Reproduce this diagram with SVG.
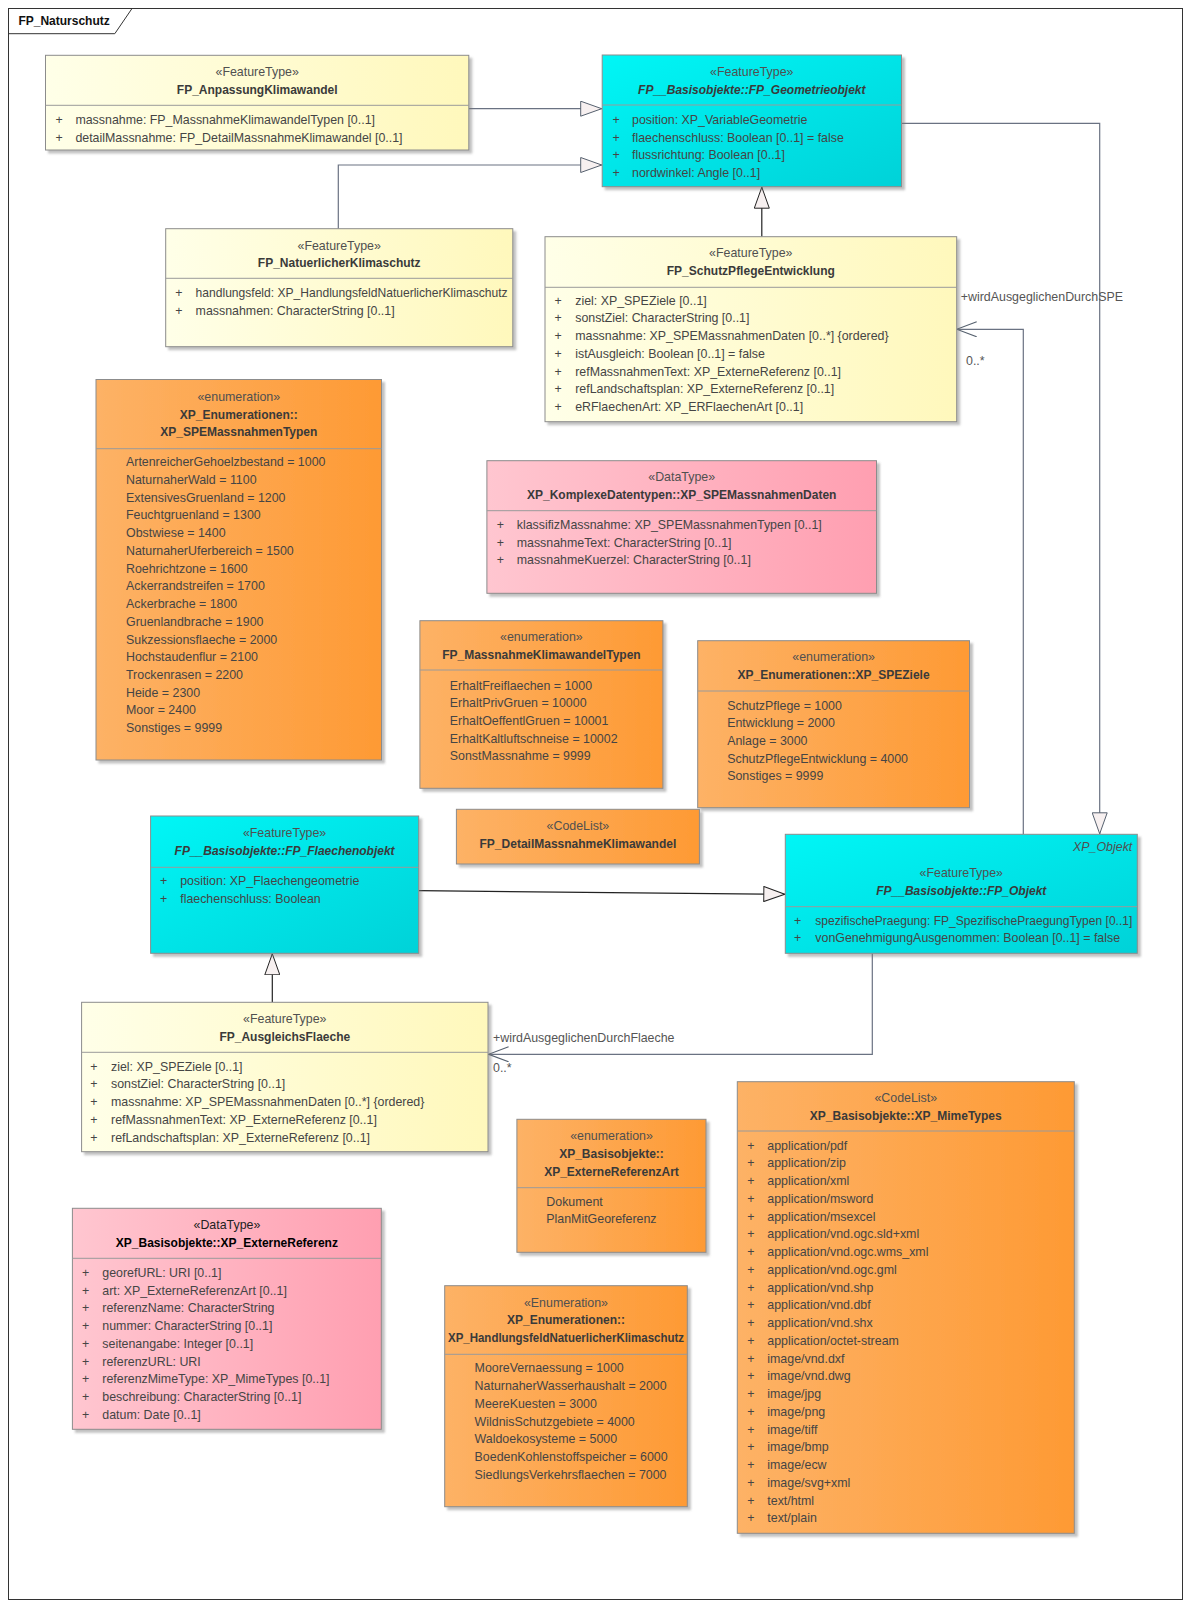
<svg xmlns="http://www.w3.org/2000/svg" width="1190" height="1608" viewBox="0 0 1190 1608">
<defs>
<linearGradient id="gY" x1="0" y1="0" x2="1" y2="0"><stop offset="0" stop-color="#FFFFE8"/><stop offset="1" stop-color="#FFF8BC"/></linearGradient>
<linearGradient id="gC" x1="0" y1="0" x2="1" y2="1"><stop offset="0" stop-color="#00F6F6"/><stop offset="1" stop-color="#00D2D8"/></linearGradient>
<linearGradient id="gO" x1="0" y1="0" x2="1" y2="0"><stop offset="0" stop-color="#FDB266"/><stop offset="1" stop-color="#FE9A34"/></linearGradient>
<linearGradient id="gP" x1="0" y1="0" x2="1" y2="0"><stop offset="0" stop-color="#FFC6D0"/><stop offset="1" stop-color="#FF9FB1"/></linearGradient>
<filter id="sh" x="-5%" y="-5%" width="115%" height="115%"><feDropShadow dx="3" dy="3" stdDeviation="1.2" flood-color="#777" flood-opacity="0.45"/></filter>
<marker id="gen" viewBox="0 0 22 16" refX="22" refY="8" markerWidth="22" markerHeight="16" markerUnits="userSpaceOnUse" orient="auto"><path d="M0.5,0.5 L21.5,8 L0.5,15.5 Z" fill="#F7F0F0" stroke="#55606E" stroke-width="1"/></marker>
<marker id="genk" viewBox="0 0 22 16" refX="22" refY="8" markerWidth="22" markerHeight="16" markerUnits="userSpaceOnUse" orient="auto"><path d="M0.5,0.5 L21.5,8 L0.5,15.5 Z" fill="#F7F0F0" stroke="#222" stroke-width="1"/></marker>
<marker id="open" viewBox="0 0 22 16" refX="21" refY="8" markerWidth="22" markerHeight="16" markerUnits="userSpaceOnUse" orient="auto"><path d="M1,0.5 L21,8 L1,15.5" fill="none" stroke="#55606E" stroke-width="1.1"/></marker>
<style>
text{font-family:"Liberation Sans",Arial,sans-serif;font-size:12.4px;fill:#454545}
.st{text-anchor:middle;fill:#505050}
.nm{text-anchor:middle;font-weight:bold;font-size:12px;fill:#3A3A3A}
.ni{text-anchor:middle;font-weight:bold;font-style:italic;font-size:12px;fill:#3A3A3A}
.box{stroke:#8C8C8C;stroke-width:1;filter:url(#sh)}
.y{fill:url(#gY)}.c{fill:url(#gC)}.o{fill:url(#gO)}.p{fill:url(#gP)}
.dv{stroke:#9A9A9A;stroke-width:1}
.ln{fill:none;stroke:#6A7282;stroke-width:1.2}
.lk{fill:none;stroke:#222;stroke-width:1.2}
.lb{fill:#555}
</style>
</defs>
<rect width="1190" height="1608" fill="#fff"/>
<g id="frame">
<rect x="8.5" y="8.5" width="1174" height="1591" fill="none" stroke="#333" stroke-width="1"/>
<path d="M8.5,33.7 H114.8 L132,8.5" fill="none" stroke="#333" stroke-width="1"/>
<text x="18.4" y="25" style="font-weight:bold;font-size:12px;fill:#111">FP_Naturschutz</text>
</g>
<g id="connectors">
<path class="ln" d="M468.8,108.7 H602.2" marker-end="url(#gen)"/>
<path class="ln" d="M338.3,228.7 V165 H602.2" marker-end="url(#gen)"/>
<path class="lk" d="M761.8,236.7 V186.7" marker-end="url(#genk)"/>
<path class="ln" d="M901.5,123.3 H1099.7 V834.3" marker-end="url(#gen)"/>
<path class="lk" d="M418.7,890.7 L785.3,894.3" marker-end="url(#genk)"/>
<path class="lk" d="M272.3,1002.3 V953.3" marker-end="url(#genk)"/>
<path class="ln" d="M1023.3,834.3 V329.3 H956.7" marker-end="url(#open)"/>
<path class="ln" d="M872.3,953.3 V1054.3 H488.6" marker-end="url(#open)"/>
<text class="lb" x="960.8" y="301.2">+wirdAusgeglichenDurchSPE</text>
<text class="lb" x="966" y="365.2">0..*</text>
<text class="lb" x="493" y="1042.2">+wirdAusgeglichenDurchFlaeche</text>
<text class="lb" x="493" y="1072.2">0..*</text>
</g>
<g id="FP_AnpassungKlimawandel">
<rect class="box y" x="45.5" y="55.3" width="423.3" height="94.7"/>
<line class="dv" x1="45.5" y1="105.3" x2="468.8" y2="105.3"/>
<text class="st" x="257.2" y="76.2">«FeatureType»</text>
<text class="nm" x="257.2" y="93.8">FP_AnpassungKlimawandel</text>
<text x="55.5" y="123.8">+</text><text x="75.4" y="123.8">massnahme: FP_MassnahmeKlimawandelTypen [0..1]</text>
<text x="55.5" y="141.5">+</text><text x="75.4" y="141.5">detailMassnahme: FP_DetailMassnahmeKlimawandel [0..1]</text>
</g>
<g id="FP_Geometrieobjekt">
<rect class="box c" x="602.2" y="55" width="299.3" height="131.7"/>
<line class="dv" x1="602.2" y1="105" x2="901.5" y2="105"/>
<text class="st" x="751.8" y="76.2">«FeatureType»</text>
<text class="ni" x="751.8" y="93.8">FP__Basisobjekte::FP_Geometrieobjekt</text>
<text x="612.5" y="123.8">+</text><text x="632" y="123.8">position: XP_VariableGeometrie</text>
<text x="612.5" y="141.5">+</text><text x="632" y="141.5">flaechenschluss: Boolean [0..1] = false</text>
<text x="612.5" y="159.2">+</text><text x="632" y="159.2">flussrichtung: Boolean [0..1]</text>
<text x="612.5" y="176.9">+</text><text x="632" y="176.9">nordwinkel: Angle [0..1]</text>
</g>
<g id="FP_NatuerlicherKlimaschutz">
<rect class="box y" x="165.7" y="228.7" width="347.1" height="118"/>
<line class="dv" x1="165.7" y1="278.3" x2="512.8" y2="278.3"/>
<text class="st" x="339.2" y="249.5">«FeatureType»</text>
<text class="nm" x="339.2" y="267.2">FP_NatuerlicherKlimaschutz</text>
<text x="175.3" y="297.2">+</text><text x="195.6" y="297.2" textLength="312" lengthAdjust="spacingAndGlyphs">handlungsfeld: XP_HandlungsfeldNatuerlicherKlimaschutz</text>
<text x="175.3" y="314.9">+</text><text x="195.6" y="314.9">massnahmen: CharacterString [0..1]</text>
</g>
<g id="FP_SchutzPflegeEntwicklung">
<rect class="box y" x="545" y="236.7" width="411.7" height="185"/>
<line class="dv" x1="545" y1="287.3" x2="956.7" y2="287.3"/>
<text class="st" x="750.8" y="256.8">«FeatureType»</text>
<text class="nm" x="750.8" y="274.5">FP_SchutzPflegeEntwicklung</text>
<text x="554.5" y="304.6">+</text><text x="575.2" y="304.6">ziel: XP_SPEZiele [0..1]</text>
<text x="554.5" y="322.35">+</text><text x="575.2" y="322.35">sonstZiel: CharacterString [0..1]</text>
<text x="554.5" y="340.1">+</text><text x="575.2" y="340.1">massnahme: XP_SPEMassnahmenDaten [0..*] {ordered}</text>
<text x="554.5" y="357.85">+</text><text x="575.2" y="357.85">istAusgleich: Boolean [0..1] = false</text>
<text x="554.5" y="375.6">+</text><text x="575.2" y="375.6">refMassnahmenText: XP_ExterneReferenz [0..1]</text>
<text x="554.5" y="393.35">+</text><text x="575.2" y="393.35">refLandschaftsplan: XP_ExterneReferenz [0..1]</text>
<text x="554.5" y="411.1">+</text><text x="575.2" y="411.1">eRFlaechenArt: XP_ERFlaechenArt [0..1]</text>
</g>
<g id="XP_SPEMassnahmenTypen">
<rect class="box o" x="96" y="379.5" width="285.5" height="380.5"/>
<line class="dv" x1="96" y1="448.7" x2="381.5" y2="448.7"/>
<text class="st" x="238.8" y="401.2">«enumeration»</text>
<text class="nm" x="238.8" y="418.8">XP_Enumerationen::</text>
<text class="nm" x="238.8" y="435.5">XP_SPEMassnahmenTypen</text>
<text x="126" y="466.2">ArtenreicherGehoelzbestand = 1000</text>
<text x="126" y="483.9">NaturnaherWald = 1100</text>
<text x="126" y="501.7">ExtensivesGruenland = 1200</text>
<text x="126" y="519.4">Feuchtgruenland = 1300</text>
<text x="126" y="537.1">Obstwiese = 1400</text>
<text x="126" y="554.9">NaturnaherUferbereich = 1500</text>
<text x="126" y="572.6">Roehrichtzone = 1600</text>
<text x="126" y="590.3">Ackerrandstreifen = 1700</text>
<text x="126" y="608.0">Ackerbrache = 1800</text>
<text x="126" y="625.8">Gruenlandbrache = 1900</text>
<text x="126" y="643.5">Sukzessionsflaeche = 2000</text>
<text x="126" y="661.2">Hochstaudenflur = 2100</text>
<text x="126" y="679.0">Trockenrasen = 2200</text>
<text x="126" y="696.7">Heide = 2300</text>
<text x="126" y="714.4">Moor = 2400</text>
<text x="126" y="732.2">Sonstiges = 9999</text>
</g>
<g id="XP_SPEMassnahmenDaten">
<rect class="box p" x="486.9" y="460.7" width="389.6" height="132.6"/>
<line class="dv" x1="486.9" y1="510.7" x2="876.5" y2="510.7"/>
<text class="st" x="681.7" y="481.2">«DataType»</text>
<text class="nm" x="681.7" y="498.8">XP_KomplexeDatentypen::XP_SPEMassnahmenDaten</text>
<text x="496.8" y="528.8">+</text><text x="516.7" y="528.8">klassifizMassnahme: XP_SPEMassnahmenTypen [0..1]</text>
<text x="496.8" y="546.6">+</text><text x="516.7" y="546.6">massnahmeText: CharacterString [0..1]</text>
<text x="496.8" y="564.3">+</text><text x="516.7" y="564.3">massnahmeKuerzel: CharacterString [0..1]</text>
</g>
<g id="FP_MassnahmeKlimawandelTypen">
<rect class="box o" x="419.9" y="620.7" width="243" height="167.6"/>
<line class="dv" x1="419.9" y1="670" x2="662.9" y2="670"/>
<text class="st" x="541.4" y="641.2">«enumeration»</text>
<text class="nm" x="541.4" y="658.5">FP_MassnahmeKlimawandelTypen</text>
<text x="449.8" y="689.5">ErhaltFreiflaechen = 1000</text>
<text x="449.8" y="707.2">ErhaltPrivGruen = 10000</text>
<text x="449.8" y="724.9">ErhaltOeffentlGruen = 10001</text>
<text x="449.8" y="742.6">ErhaltKaltluftschneise = 10002</text>
<text x="449.8" y="760.3">SonstMassnahme = 9999</text>
</g>
<g id="XP_SPEZiele">
<rect class="box o" x="697.7" y="640.7" width="271.8" height="167"/>
<line class="dv" x1="697.7" y1="691" x2="969.5" y2="691"/>
<text class="st" x="833.6" y="661.2">«enumeration»</text>
<text class="nm" x="833.6" y="678.8">XP_Enumerationen::XP_SPEZiele</text>
<text x="727.2" y="709.5">SchutzPflege = 1000</text>
<text x="727.2" y="727.2">Entwicklung = 2000</text>
<text x="727.2" y="744.9">Anlage = 3000</text>
<text x="727.2" y="762.6">SchutzPflegeEntwicklung = 4000</text>
<text x="727.2" y="780.3">Sonstiges = 9999</text>
</g>
<g id="FP_DetailMassnahmeKlimawandel">
<rect class="box o" x="456.4" y="809.3" width="243" height="54.7"/>
<text class="st" x="577.9" y="829.8">«CodeList»</text>
<text class="nm" x="577.9" y="847.8">FP_DetailMassnahmeKlimawandel</text>
</g>
<g id="FP_Flaechenobjekt">
<rect class="box c" x="150.6" y="816" width="268.1" height="137.3"/>
<line class="dv" x1="150.6" y1="867.3" x2="418.7" y2="867.3"/>
<text class="st" x="284.6" y="836.8">«FeatureType»</text>
<text class="ni" x="284.6" y="854.5">FP__Basisobjekte::FP_Flaechenobjekt</text>
<text x="160" y="885.2">+</text><text x="180.2" y="885.2">position: XP_Flaechengeometrie</text>
<text x="160" y="903">+</text><text x="180.2" y="903">flaechenschluss: Boolean</text>
</g>
<g id="FP_Objekt">
<rect class="box c" x="785.3" y="834.3" width="352" height="119"/>
<line class="dv" x1="785.3" y1="906.7" x2="1137.3" y2="906.7"/>
<text x="1132.3" y="850.5" style="font-style:italic;text-anchor:end;fill:#505050">XP_Objekt</text>
<text class="st" x="961.3" y="876.8">«FeatureType»</text>
<text class="ni" x="961.3" y="894.5">FP__Basisobjekte::FP_Objekt</text>
<text x="794" y="924.5">+</text><text x="815.3" y="924.5" textLength="317" lengthAdjust="spacingAndGlyphs">spezifischePraegung: FP_SpezifischePraegungTypen [0..1]</text>
<text x="794" y="942.2">+</text><text x="815.3" y="942.2">vonGenehmigungAusgenommen: Boolean [0..1] = false</text>
</g>
<g id="FP_AusgleichsFlaeche">
<rect class="box y" x="81.6" y="1002.3" width="406.4" height="149.4"/>
<line class="dv" x1="81.6" y1="1052.3" x2="488" y2="1052.3"/>
<text class="st" x="284.8" y="1022.8">«FeatureType»</text>
<text class="nm" x="284.8" y="1041.2">FP_AusgleichsFlaeche</text>
<text x="90.3" y="1070.5">+</text><text x="111" y="1070.5">ziel: XP_SPEZiele [0..1]</text>
<text x="90.3" y="1088.25">+</text><text x="111" y="1088.25">sonstZiel: CharacterString [0..1]</text>
<text x="90.3" y="1106">+</text><text x="111" y="1106">massnahme: XP_SPEMassnahmenDaten [0..*] {ordered}</text>
<text x="90.3" y="1123.75">+</text><text x="111" y="1123.75">refMassnahmenText: XP_ExterneReferenz [0..1]</text>
<text x="90.3" y="1141.5">+</text><text x="111" y="1141.5">refLandschaftsplan: XP_ExterneReferenz [0..1]</text>
</g>
<g id="XP_ExterneReferenzArt">
<rect class="box o" x="516.9" y="1119.3" width="189.1" height="133"/>
<line class="dv" x1="516.9" y1="1187.7" x2="706" y2="1187.7"/>
<text class="st" x="611.5" y="1140.2">«enumeration»</text>
<text class="nm" x="611.5" y="1157.8">XP_Basisobjekte::</text>
<text class="nm" x="611.5" y="1176.2">XP_ExterneReferenzArt</text>
<text x="546.3" y="1205.5">Dokument</text>
<text x="546.3" y="1222.8">PlanMitGeoreferenz</text>
</g>
<g id="XP_MimeTypes">
<rect class="box o" x="737.3" y="1081.7" width="337" height="451.6"/>
<line class="dv" x1="737.3" y1="1131" x2="1074.3" y2="1131"/>
<text class="st" x="905.8" y="1101.8">«CodeList»</text>
<text class="nm" x="905.8" y="1119.5">XP_Basisobjekte::XP_MimeTypes</text>
<text x="747.3" y="1149.5">+</text><text x="767.3" y="1149.5">application/pdf</text>
<text x="747.3" y="1167.25">+</text><text x="767.3" y="1167.25">application/zip</text>
<text x="747.3" y="1185">+</text><text x="767.3" y="1185">application/xml</text>
<text x="747.3" y="1202.75">+</text><text x="767.3" y="1202.75">application/msword</text>
<text x="747.3" y="1220.5">+</text><text x="767.3" y="1220.5">application/msexcel</text>
<text x="747.3" y="1238.25">+</text><text x="767.3" y="1238.25">application/vnd.ogc.sld+xml</text>
<text x="747.3" y="1256">+</text><text x="767.3" y="1256">application/vnd.ogc.wms_xml</text>
<text x="747.3" y="1273.75">+</text><text x="767.3" y="1273.75">application/vnd.ogc.gml</text>
<text x="747.3" y="1291.5">+</text><text x="767.3" y="1291.5">application/vnd.shp</text>
<text x="747.3" y="1309.25">+</text><text x="767.3" y="1309.25">application/vnd.dbf</text>
<text x="747.3" y="1327">+</text><text x="767.3" y="1327">application/vnd.shx</text>
<text x="747.3" y="1344.75">+</text><text x="767.3" y="1344.75">application/octet-stream</text>
<text x="747.3" y="1362.5">+</text><text x="767.3" y="1362.5">image/vnd.dxf</text>
<text x="747.3" y="1380.25">+</text><text x="767.3" y="1380.25">image/vnd.dwg</text>
<text x="747.3" y="1398">+</text><text x="767.3" y="1398">image/jpg</text>
<text x="747.3" y="1415.75">+</text><text x="767.3" y="1415.75">image/png</text>
<text x="747.3" y="1433.5">+</text><text x="767.3" y="1433.5">image/tiff</text>
<text x="747.3" y="1451.25">+</text><text x="767.3" y="1451.25">image/bmp</text>
<text x="747.3" y="1469">+</text><text x="767.3" y="1469">image/ecw</text>
<text x="747.3" y="1486.75">+</text><text x="767.3" y="1486.75">image/svg+xml</text>
<text x="747.3" y="1504.5">+</text><text x="767.3" y="1504.5">text/html</text>
<text x="747.3" y="1522.25">+</text><text x="767.3" y="1522.25">text/plain</text>
</g>
<g id="XP_ExterneReferenz">
<rect class="box p" x="72.4" y="1208.3" width="308.9" height="221"/>
<line class="dv" x1="72.4" y1="1258.3" x2="381.3" y2="1258.3"/>
<text class="st" x="226.9" y="1228.8" style="fill:#222">«DataType»</text>
<text class="nm" x="226.9" y="1247.2" style="fill:#000">XP_Basisobjekte::XP_ExterneReferenz</text>
<text x="82" y="1276.8">+</text><text x="102.3" y="1276.8">georefURL: URI [0..1]</text>
<text x="82" y="1294.55">+</text><text x="102.3" y="1294.55">art: XP_ExterneReferenzArt [0..1]</text>
<text x="82" y="1312.3">+</text><text x="102.3" y="1312.3">referenzName: CharacterString</text>
<text x="82" y="1330.05">+</text><text x="102.3" y="1330.05">nummer: CharacterString [0..1]</text>
<text x="82" y="1347.8">+</text><text x="102.3" y="1347.8">seitenangabe: Integer [0..1]</text>
<text x="82" y="1365.55">+</text><text x="102.3" y="1365.55">referenzURL: URI</text>
<text x="82" y="1383.3">+</text><text x="102.3" y="1383.3">referenzMimeType: XP_MimeTypes [0..1]</text>
<text x="82" y="1401.05">+</text><text x="102.3" y="1401.05">beschreibung: CharacterString [0..1]</text>
<text x="82" y="1418.8">+</text><text x="102.3" y="1418.8">datum: Date [0..1]</text>
</g>
<g id="XP_HandlungsfeldNatuerlicherKlimaschutz">
<rect class="box o" x="444.7" y="1285.7" width="242.6" height="221"/>
<line class="dv" x1="444.7" y1="1354.3" x2="687.3" y2="1354.3"/>
<text class="st" x="566" y="1306.8">«Enumeration»</text>
<text class="nm" x="566" y="1323.8">XP_Enumerationen::</text>
<text class="nm" x="566" y="1341.8" textLength="236" lengthAdjust="spacingAndGlyphs">XP_HandlungsfeldNatuerlicherKlimaschutz</text>
<text x="474.6" y="1372.2">MooreVernaessung = 1000</text>
<text x="474.6" y="1390">NaturnaherWasserhaushalt = 2000</text>
<text x="474.6" y="1407.7">MeereKuesten = 3000</text>
<text x="474.6" y="1425.5">WildnisSchutzgebiete = 4000</text>
<text x="474.6" y="1443.3">Waldoekosysteme = 5000</text>
<text x="474.6" y="1461">BoedenKohlenstoffspeicher = 6000</text>
<text x="474.6" y="1478.8">SiedlungsVerkehrsflaechen = 7000</text>
</g>
</svg>
